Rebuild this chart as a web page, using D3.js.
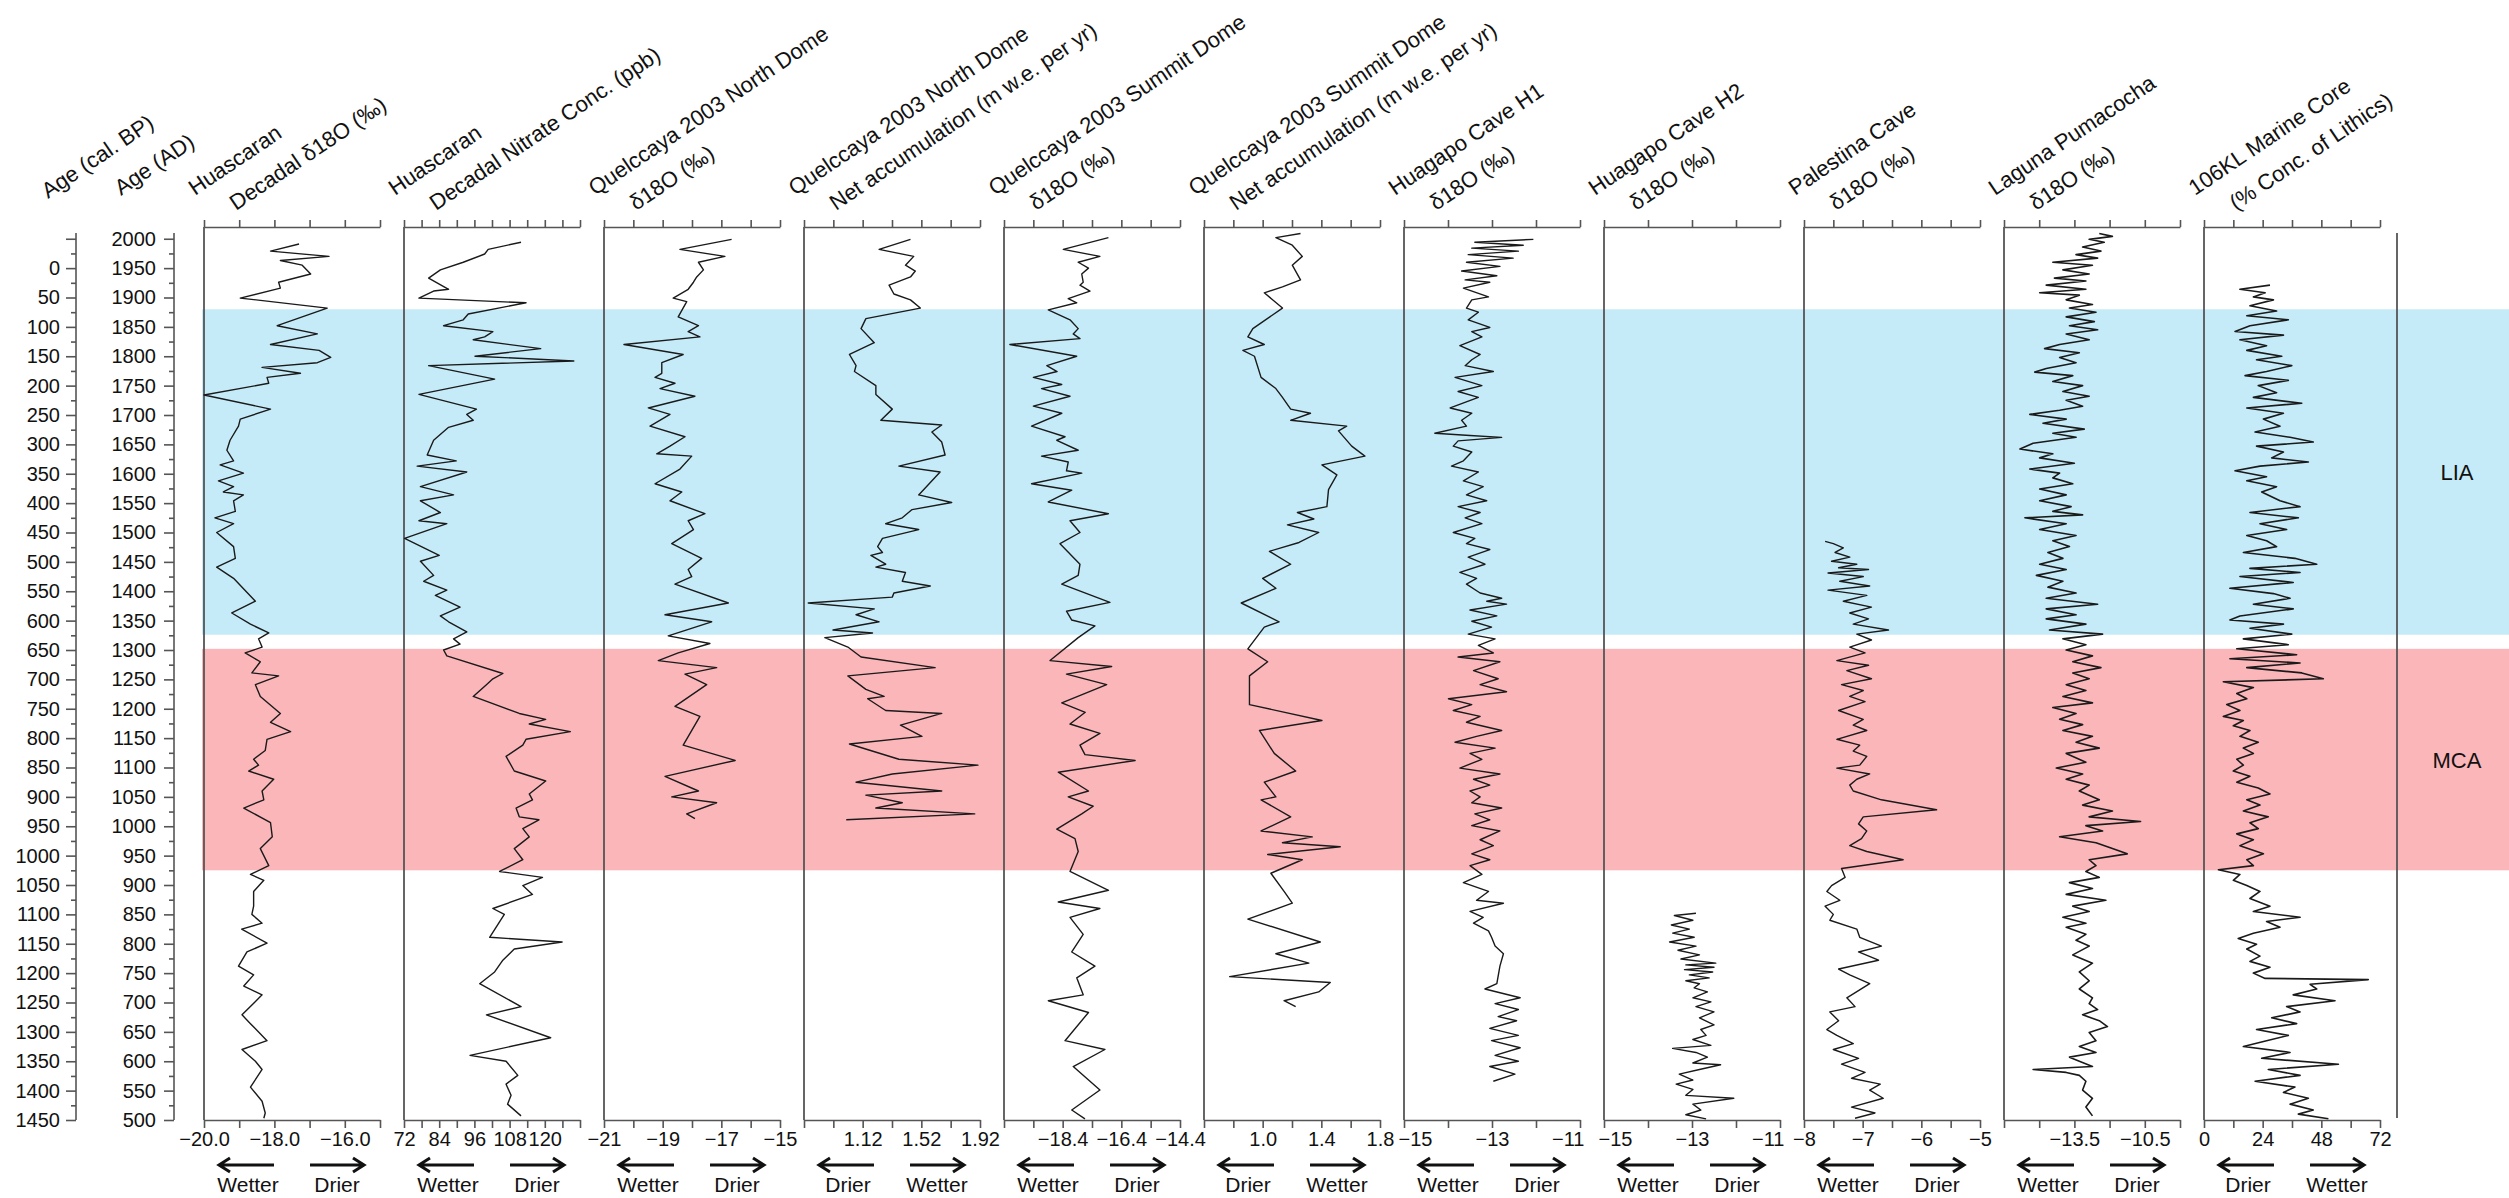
<!DOCTYPE html>
<html>
<head>
<meta charset="utf-8">
<script src="https://cdn.jsdelivr.net/npm/d3@7"></script>
<style>
  html, body { margin: 0; padding: 0; background: #fff; }
  svg { display: block; font-family: "Liberation Sans", Arial, sans-serif; }
</style>
</head>
<body>
<svg id="chart" width="2509" height="1198"></svg>
<script>
// ─────────────────────────────────────────────────────────────
// 1. data  (each series: [year AD, value])
// ─────────────────────────────────────────────────────────────
const periodNames = ['LIA', 'MCA'];
const periodStart = [1880, 1302];
const periodEnd   = [1326, 925];

const huascaranD18O = [[1991,-17.30],[1979,-18.11],[1970,-16.45],[1963,-17.83],[1955,-17.21],[1940,-16.97],[1926,-17.88],[1916,-17.83],[1899,-18.97],[1882,-16.50],[1852,-17.92],[1838,-16.78],[1820,-18.11],[1810,-16.73],[1798,-16.40],[1789,-16.78],[1781,-18.35],[1771,-17.26],[1764,-18.21],[1754,-18.16],[1734,-20.00],[1710,-18.11],[1693,-18.97],[1681,-19.02],[1657,-19.26],[1640,-19.35],[1622,-19.16],[1615,-19.54],[1601,-18.88],[1588,-19.59],[1578,-19.16],[1569,-19.45],[1564,-18.88],[1554,-19.16],[1536,-19.11],[1525,-19.69],[1515,-19.16],[1500,-19.64],[1476,-19.16],[1456,-19.11],[1441,-19.64],[1422,-19.16],[1383,-18.54],[1363,-19.21],[1344,-18.68],[1329,-18.16],[1319,-18.45],[1305,-18.35],[1295,-18.83],[1280,-18.40],[1261,-18.64],[1256,-17.88],[1241,-18.54],[1221,-18.40],[1192,-17.83],[1177,-18.11],[1161,-17.54],[1148,-18.21],[1129,-18.26],[1114,-18.59],[1104,-18.45],[1094,-18.73],[1080,-18.02],[1060,-18.35],[1045,-18.30],[1031,-18.87],[1006,-18.11],[982,-18.06],[962,-18.40],[933,-18.16],[918,-18.68],[908,-18.30],[889,-18.59],[864,-18.59],[850,-18.64],[835,-18.35],[825,-18.93],[801,-18.21],[786,-18.78],[762,-19.02],[747,-18.59],[728,-18.87],[713,-18.35],[679,-18.92],[664,-18.68],[635,-18.21],[620,-18.92],[600,-18.54],[586,-18.35],[556,-18.68],[532,-18.35],[512,-18.26],[503,-18.30]];

const huascaranNitrate = [[1994,111.9],[1982,100.7],[1974,99.5],[1960,92.2],[1947,84.4],[1933,80.4],[1914,87.2],[1911,82.1],[1899,77.1],[1891,113.6],[1872,93.9],[1862,92.2],[1852,85.5],[1842,102.3],[1833,99.5],[1828,95.6],[1813,118.6],[1800,96.2],[1792,129.9],[1784,80.4],[1761,102.9],[1735,77.1],[1710,96.7],[1701,93.4],[1691,95.6],[1679,87.2],[1657,82.1],[1632,79.9],[1622,89.8],[1613,76.5],[1603,93.4],[1578,77.6],[1564,88.9],[1554,77.6],[1534,84.4],[1520,77.1],[1515,86.6],[1490,72.2],[1461,84.0],[1451,77.6],[1427,82.1],[1417,78.7],[1402,86.6],[1393,82.7],[1373,91.1],[1358,84.4],[1348,87.2],[1331,93.4],[1319,88.9],[1310,91.1],[1300,85.5],[1290,86.6],[1260,105.7],[1251,102.3],[1241,100.1],[1221,95.6],[1192,111.3],[1182,120.3],[1174,114.7],[1161,128.7],[1148,113.6],[1138,112.5],[1119,106.8],[1094,109.6],[1077,120.3],[1055,114.7],[1045,115.8],[1031,110.2],[1016,111.3],[1011,118.0],[996,112.5],[982,114.7],[962,109.6],[943,112.5],[923,104.6],[913,119.2],[899,112.5],[884,115.8],[860,102.3],[850,106.2],[811,101.2],[803,125.9],[791,109.6],[772,105.7],[752,102.9],[732,97.8],[693,111.9],[679,100.1],[640,122.0],[610,94.5],[600,106.8],[576,110.8],[561,106.8],[542,108.5],[527,107.3],[507,111.9]];

const quelccayaND18O = [[1999,-16.65],[1982,-18.41],[1970,-16.88],[1960,-17.78],[1947,-17.61],[1935,-17.84],[1926,-17.95],[1914,-18.13],[1899,-18.64],[1893,-18.18],[1867,-18.47],[1852,-17.78],[1842,-18.13],[1833,-17.73],[1820,-20.32],[1803,-18.30],[1789,-19.03],[1771,-19.03],[1764,-19.26],[1754,-18.58],[1745,-19.09],[1732,-17.90],[1712,-19.49],[1701,-18.75],[1681,-19.43],[1663,-18.24],[1647,-18.75],[1634,-19.20],[1630,-18.01],[1608,-18.41],[1583,-19.26],[1569,-18.35],[1554,-18.75],[1532,-17.56],[1520,-18.13],[1505,-17.95],[1481,-18.69],[1456,-17.67],[1437,-18.13],[1425,-18.01],[1412,-18.58],[1380,-16.76],[1360,-18.92],[1348,-17.33],[1324,-18.81],[1311,-17.39],[1295,-18.47],[1282,-19.15],[1270,-17.16],[1259,-18.24],[1241,-17.50],[1204,-18.58],[1187,-17.73],[1138,-18.30],[1112,-16.53],[1085,-18.92],[1060,-17.78],[1050,-18.69],[1040,-17.16],[1021,-18.18],[1013,-17.90]];

const quelccayaNAccum = [[1999,1.446],[1982,1.232],[1970,1.468],[1955,1.412],[1945,1.479],[1935,1.446],[1921,1.300],[1906,1.333],[1896,1.446],[1882,1.513],[1864,1.142],[1847,1.109],[1823,1.199],[1803,1.030],[1784,1.075],[1774,1.064],[1750,1.210],[1735,1.210],[1710,1.322],[1691,1.244],[1683,1.659],[1671,1.592],[1654,1.659],[1632,1.682],[1613,1.367],[1603,1.648],[1564,1.502],[1551,1.727],[1539,1.457],[1525,1.390],[1515,1.277],[1505,1.502],[1490,1.255],[1476,1.222],[1466,1.255],[1461,1.176],[1446,1.277],[1441,1.210],[1432,1.412],[1417,1.390],[1409,1.581],[1397,1.333],[1390,1.322],[1380,0.749],[1370,1.199],[1360,1.075],[1348,1.232],[1334,0.918],[1329,1.187],[1321,0.862],[1305,1.019],[1288,1.109],[1270,1.614],[1256,1.019],[1233,1.142],[1221,1.266],[1217,1.154],[1197,1.277],[1192,1.659],[1172,1.378],[1153,1.524],[1140,1.030],[1114,1.367],[1104,1.906],[1089,1.322],[1075,1.075],[1060,1.659],[1053,1.142],[1040,1.390],[1031,1.210],[1021,1.884],[1011,1.008]];

const quelccayaSD18O = [[2002,-16.84],[1982,-18.38],[1970,-17.13],[1960,-17.87],[1950,-17.52],[1940,-17.75],[1926,-17.70],[1921,-17.81],[1911,-17.47],[1898,-18.21],[1891,-17.92],[1879,-18.89],[1862,-18.15],[1847,-17.87],[1838,-18.04],[1830,-17.81],[1820,-20.20],[1800,-17.92],[1784,-18.94],[1774,-18.59],[1764,-19.40],[1752,-18.43],[1745,-19.12],[1732,-18.15],[1715,-19.40],[1703,-18.43],[1681,-19.46],[1663,-18.32],[1657,-18.60],[1640,-17.87],[1630,-19.12],[1620,-18.21],[1605,-18.27],[1601,-17.75],[1583,-19.46],[1572,-18.09],[1552,-18.89],[1532,-16.84],[1520,-18.15],[1500,-17.81],[1481,-18.49],[1446,-17.81],[1427,-17.87],[1412,-18.43],[1381,-16.79],[1366,-18.27],[1351,-18.09],[1341,-17.30],[1321,-17.87],[1282,-18.83],[1272,-16.73],[1259,-18.27],[1241,-16.90],[1210,-18.43],[1194,-17.63],[1174,-18.15],[1158,-17.13],[1138,-17.81],[1122,-17.64],[1112,-15.93],[1092,-18.55],[1060,-17.52],[1050,-18.21],[1034,-17.36],[1021,-17.75],[995,-18.60],[979,-17.98],[957,-17.87],[923,-18.15],[891,-16.84],[871,-18.55],[860,-17.13],[845,-18.15],[816,-17.70],[786,-18.09],[762,-17.30],[742,-17.92],[713,-17.70],[703,-18.89],[683,-17.52],[635,-18.32],[620,-16.96],[591,-18.04],[551,-17.13],[517,-18.09],[502,-17.64]];

const quelccayaSAccum = [[2009,1.258],[2002,1.090],[1989,1.202],[1970,1.270],[1955,1.202],[1930,1.258],[1918,1.135],[1908,1.011],[1882,1.135],[1847,0.933],[1833,0.899],[1820,1.011],[1810,0.865],[1800,0.944],[1764,0.989],[1745,1.090],[1730,1.135],[1710,1.191],[1703,1.326],[1691,1.191],[1681,1.573],[1673,1.517],[1647,1.607],[1630,1.697],[1615,1.404],[1598,1.506],[1573,1.449],[1544,1.438],[1534,1.237],[1523,1.349],[1513,1.169],[1500,1.382],[1483,1.248],[1468,1.046],[1446,1.191],[1422,1.000],[1405,1.090],[1380,0.854],[1348,1.112],[1339,1.011],[1302,0.899],[1280,1.034],[1256,0.910],[1207,0.910],[1180,1.404],[1163,0.978],[1124,1.079],[1094,1.225],[1075,1.011],[1050,1.090],[1045,0.989],[1016,1.191],[992,0.989],[982,1.338],[972,1.135],[965,1.529],[952,1.034],[943,1.270],[920,1.056],[889,1.146],[869,1.202],[842,0.899],[803,1.393],[783,1.090],[767,1.315],[744,0.775],[734,1.461],[718,1.382],[703,1.146],[693,1.225]];

const huagapoH1 = [[1999,-12.06],[1994,-13.39],[1989,-12.29],[1984,-13.46],[1979,-12.40],[1973,-13.54],[1967,-12.52],[1960,-13.58],[1953,-12.82],[1945,-13.69],[1937,-12.89],[1930,-13.61],[1926,-13.05],[1916,-13.65],[1901,-13.08],[1896,-13.46],[1882,-13.58],[1875,-13.31],[1862,-13.54],[1849,-13.05],[1842,-13.46],[1833,-13.23],[1818,-13.73],[1803,-13.27],[1794,-13.46],[1784,-13.61],[1774,-12.97],[1764,-13.84],[1750,-13.23],[1740,-13.77],[1730,-13.31],[1712,-13.95],[1703,-13.46],[1691,-13.69],[1681,-13.58],[1669,-14.30],[1665,-13.50],[1662,-12.78],[1656,-13.77],[1647,-13.88],[1637,-13.46],[1622,-13.65],[1613,-13.92],[1603,-13.31],[1588,-13.65],[1578,-13.20],[1564,-13.58],[1554,-13.12],[1544,-13.77],[1534,-13.27],[1525,-13.61],[1515,-13.23],[1500,-13.88],[1490,-13.39],[1481,-13.58],[1471,-13.05],[1458,-13.54],[1446,-13.16],[1432,-13.73],[1422,-13.35],[1412,-13.58],[1397,-13.27],[1388,-12.78],[1383,-13.12],[1378,-12.67],[1368,-13.50],[1358,-12.89],[1349,-13.46],[1339,-13.01],[1327,-13.54],[1319,-12.93],[1308,-13.31],[1295,-12.97],[1288,-13.77],[1280,-12.82],[1265,-13.42],[1251,-12.86],[1241,-13.27],[1229,-12.67],[1217,-13.99],[1207,-13.46],[1197,-13.88],[1187,-13.27],[1177,-13.58],[1163,-12.78],[1153,-13.35],[1143,-13.84],[1133,-12.93],[1124,-13.50],[1114,-13.23],[1099,-13.73],[1089,-12.82],[1080,-13.42],[1070,-13.05],[1060,-13.50],[1050,-13.27],[1040,-13.46],[1031,-12.78],[1021,-13.39],[1011,-13.05],[1001,-13.46],[992,-12.82],[977,-13.27],[967,-12.97],[953,-13.46],[943,-13.05],[933,-13.50],[918,-13.23],[904,-13.65],[889,-13.08],[874,-13.35],[869,-12.74],[855,-13.50],[845,-13.20],[835,-13.42],[822,-13.08],[811,-13.01],[796,-12.93],[783,-12.74],[762,-12.82],[732,-12.89],[723,-13.16],[708,-12.36],[698,-12.93],[688,-12.40],[676,-12.86],[669,-12.44],[656,-13.05],[644,-12.40],[635,-13.01],[623,-12.36],[610,-12.93],[600,-12.40],[591,-13.05],[578,-12.48],[566,-12.97]];

const huagapoH2 = [[852,-12.91],[848,-13.40],[840,-12.98],[832,-13.47],[825,-13.06],[818,-13.44],[811,-12.95],[803,-13.51],[796,-12.91],[789,-13.32],[781,-12.83],[774,-13.25],[767,-12.46],[764,-13.14],[760,-12.50],[756,-13.17],[752,-12.53],[747,-13.06],[742,-12.61],[737,-13.14],[732,-12.83],[725,-12.95],[718,-12.65],[708,-12.98],[701,-12.57],[693,-12.91],[684,-12.50],[674,-12.83],[662,-12.50],[654,-12.80],[644,-12.68],[637,-12.98],[627,-12.57],[622,-13.44],[615,-12.91],[607,-12.65],[597,-12.98],[594,-12.35],[586,-12.83],[578,-13.29],[568,-12.98],[561,-13.36],[552,-12.98],[542,-13.14],[537,-12.05],[527,-12.98],[517,-12.80],[509,-13.14],[502,-12.68]];

const palestinaD18O = [[1485,-7.64],[1481,-7.50],[1474,-7.33],[1466,-7.47],[1458,-7.22],[1451,-7.53],[1446,-7.10],[1440,-7.41],[1437,-6.90],[1431,-7.59],[1425,-6.99],[1417,-7.39],[1409,-6.88],[1402,-7.59],[1393,-6.93],[1383,-7.33],[1373,-6.85],[1363,-7.22],[1353,-6.90],[1344,-7.16],[1334,-6.56],[1327,-7.10],[1317,-6.85],[1305,-7.22],[1295,-6.96],[1282,-7.44],[1274,-6.90],[1265,-7.27],[1251,-6.85],[1241,-7.36],[1231,-6.99],[1221,-7.22],[1212,-6.96],[1197,-7.41],[1182,-6.99],[1172,-7.16],[1163,-6.93],[1148,-7.44],[1138,-7.05],[1128,-7.16],[1119,-6.93],[1104,-7.05],[1099,-7.44],[1089,-6.88],[1080,-7.10],[1070,-7.22],[1060,-7.16],[1045,-6.68],[1028,-5.74],[1016,-6.99],[1004,-7.07],[992,-6.93],[979,-7.02],[967,-7.22],[957,-6.93],[943,-6.31],[928,-7.36],[913,-7.30],[899,-7.53],[889,-7.61],[874,-7.39],[864,-7.64],[850,-7.50],[840,-7.56],[825,-7.10],[811,-7.05],[796,-6.68],[786,-7.07],[772,-6.73],[757,-7.41],[747,-7.22],[732,-6.88],[708,-7.27],[693,-7.13],[684,-7.56],[669,-7.41],[654,-7.61],[644,-7.44],[630,-7.16],[620,-7.50],[605,-7.07],[595,-7.36],[581,-6.96],[571,-7.19],[561,-6.70],[551,-6.88],[537,-6.65],[522,-7.19],[512,-6.79],[503,-7.13]];

const pumacochaD18O = [[2009,-12.44],[2004,-11.88],[1999,-12.87],[1994,-12.23],[1986,-13.15],[1979,-12.37],[1973,-13.43],[1967,-12.51],[1960,-14.42],[1955,-12.73],[1947,-13.99],[1940,-12.87],[1933,-14.35],[1928,-13.01],[1921,-14.70],[1914,-13.01],[1908,-14.98],[1904,-13.29],[1896,-13.85],[1888,-12.73],[1882,-13.71],[1875,-12.58],[1867,-13.85],[1859,-12.65],[1852,-13.71],[1845,-12.51],[1838,-13.85],[1828,-12.87],[1820,-14.13],[1813,-14.77],[1806,-13.29],[1798,-14.13],[1789,-13.43],[1779,-14.70],[1773,-15.19],[1767,-13.57],[1757,-14.42],[1750,-13.15],[1740,-13.99],[1732,-12.87],[1725,-13.85],[1715,-13.15],[1708,-14.13],[1701,-15.40],[1693,-13.85],[1686,-14.84],[1676,-13.08],[1669,-14.42],[1662,-13.43],[1652,-15.26],[1642,-15.82],[1634,-14.42],[1627,-14.98],[1618,-13.50],[1608,-15.40],[1601,-14.13],[1593,-14.42],[1583,-13.57],[1574,-14.98],[1564,-13.85],[1554,-14.98],[1544,-13.64],[1536,-14.42],[1530,-13.15],[1525,-15.61],[1515,-13.85],[1505,-14.98],[1495,-13.43],[1486,-14.42],[1476,-13.71],[1466,-14.63],[1456,-13.99],[1446,-14.98],[1437,-13.85],[1427,-15.12],[1417,-13.99],[1407,-14.63],[1397,-13.43],[1388,-14.70],[1378,-12.51],[1370,-14.70],[1360,-13.43],[1353,-14.70],[1344,-13.01],[1334,-14.56],[1327,-12.30],[1319,-13.99],[1309,-13.01],[1300,-13.85],[1290,-12.73],[1280,-13.57],[1270,-12.37],[1261,-13.57],[1251,-12.87],[1241,-13.85],[1231,-13.01],[1221,-13.99],[1210,-12.73],[1202,-14.42],[1192,-13.43],[1182,-14.13],[1173,-13.15],[1163,-13.99],[1153,-12.73],[1143,-13.43],[1133,-12.44],[1124,-13.85],[1109,-13.01],[1099,-14.27],[1089,-13.15],[1080,-13.85],[1070,-12.87],[1060,-13.29],[1045,-12.44],[1036,-13.15],[1026,-11.88],[1016,-12.87],[1008,-10.68],[1001,-13.01],[992,-12.30],[982,-14.13],[972,-12.58],[962,-11.88],[953,-11.25],[943,-12.87],[933,-12.58],[923,-13.01],[913,-12.44],[904,-13.71],[894,-12.73],[884,-13.85],[874,-12.16],[864,-13.57],[855,-12.87],[845,-13.99],[835,-13.01],[828,-13.85],[816,-13.01],[806,-13.43],[796,-12.87],[781,-13.57],[767,-12.73],[752,-13.29],[737,-12.87],[723,-13.29],[708,-12.73],[698,-12.87],[688,-12.51],[679,-13.15],[669,-12.44],[659,-12.09],[649,-12.87],[635,-12.58],[625,-13.29],[615,-12.58],[607,-13.71],[600,-13.29],[591,-12.73],[586,-15.26],[581,-13.85],[576,-13.29],[566,-13.01],[551,-13.15],[537,-12.73],[522,-13.01],[507,-12.73]];

const marineLithics = [[1921,27.0],[1914,14.7],[1908,25.0],[1901,20.2],[1896,28.4],[1886,18.8],[1877,29.7],[1869,17.5],[1862,34.5],[1852,18.8],[1842,12.7],[1836,32.5],[1828,14.7],[1818,25.6],[1810,17.5],[1800,31.8],[1794,21.5],[1784,35.9],[1774,25.6],[1767,16.8],[1759,34.5],[1750,22.2],[1738,29.7],[1730,20.2],[1720,40.0],[1712,17.5],[1703,32.5],[1693,24.3],[1681,31.1],[1671,20.9],[1662,35.2],[1654,44.7],[1647,21.5],[1637,32.5],[1627,27.7],[1620,42.7],[1613,22.9],[1605,12.7],[1595,25.6],[1588,17.5],[1578,29.7],[1569,23.6],[1554,31.1],[1544,39.3],[1534,18.8],[1525,38.6],[1515,22.9],[1505,33.8],[1495,17.5],[1486,25.6],[1476,29.7],[1466,16.1],[1456,37.2],[1446,46.1],[1439,18.8],[1432,39.3],[1425,14.7],[1415,36.5],[1405,10.6],[1396,28.4],[1388,35.2],[1378,20.2],[1370,36.5],[1358,14.7],[1351,10.6],[1344,32.5],[1337,18.8],[1327,35.9],[1319,16.1],[1309,34.5],[1302,13.4],[1292,37.9],[1285,10.6],[1278,39.3],[1270,17.5],[1261,40.0],[1251,48.8],[1246,7.9],[1236,20.2],[1226,13.4],[1217,17.5],[1207,9.3],[1197,14.7],[1187,7.9],[1180,16.1],[1171,12.0],[1163,18.8],[1153,14.7],[1143,22.2],[1133,16.1],[1124,20.2],[1114,13.4],[1104,16.1],[1094,12.0],[1085,18.8],[1075,13.4],[1065,22.2],[1055,27.0],[1045,17.5],[1036,22.9],[1026,16.1],[1016,26.3],[1006,18.8],[996,22.2],[987,13.4],[977,20.2],[967,14.7],[953,24.3],[943,17.5],[933,20.2],[926,5.9],[918,14.7],[908,12.0],[899,17.5],[889,22.9],[877,18.8],[864,27.0],[855,20.2],[845,39.3],[838,25.6],[828,31.1],[818,20.2],[809,14.0],[799,21.5],[791,17.5],[779,22.9],[770,18.8],[760,27.0],[750,20.2],[741,25.0],[739,67.2],[731,43.4],[723,46.1],[713,36.5],[703,53.6],[693,33.8],[684,39.3],[674,27.7],[664,37.9],[654,21.5],[644,34.5],[635,25.6],[625,16.1],[615,35.2],[605,23.6],[595,55.0],[586,26.3],[576,39.3],[566,20.9],[556,37.2],[547,32.5],[537,42.7],[527,35.2],[517,44.7],[510,38.6],[502,50.9]];

// ─────────────────────────────────────────────────────────────
// 2. panel definitions (titles, x-axis ranges, tick labels)
// ─────────────────────────────────────────────────────────────
const panels = [
  { title: ['Huascaran', 'Decadal δ18O (‰)'], domain: [-20, -15], step: 1, labels: [-20, -18, -16], fmt: '.1f', arrows: ['Wetter', 'Drier'], data: huascaranD18O },
  { title: ['Huascaran', 'Decadal Nitrate Conc. (ppb)'], domain: [72, 132], step: 6, labels: [72, 84, 96, 108, 120], fmt: 'd', arrows: ['Wetter', 'Drier'], data: huascaranNitrate },
  { title: ['Quelccaya 2003 North Dome', 'δ18O (‰)'], domain: [-21, -15], step: 1, labels: [-21, -19, -17, -15], fmt: 'd', arrows: ['Wetter', 'Drier'], data: quelccayaND18O },
  { title: ['Quelccaya 2003 North Dome', 'Net accumulation (m w.e. per yr)'], domain: [0.72, 1.92], step: 0.2, labels: [1.12, 1.52, 1.92], fmt: '.2f', arrows: ['Drier', 'Wetter'], data: quelccayaNAccum },
  { title: ['Quelccaya 2003 Summit Dome', 'δ18O (‰)'], domain: [-20.4, -14.4], step: 1, labels: [-18.4, -16.4, -14.4], fmt: '.1f', arrows: ['Wetter', 'Drier'], data: quelccayaSD18O },
  { title: ['Quelccaya 2003 Summit Dome', 'Net accumulation (m w.e. per yr)'], domain: [0.6, 1.8], step: 0.2, labels: [1.0, 1.4, 1.8], fmt: '.1f', arrows: ['Drier', 'Wetter'], data: quelccayaSAccum },
  { title: ['Huagapo Cave H1', 'δ18O (‰)'], domain: [-15, -11], step: 1, labels: [-15, -13, -11], fmt: 'd', arrows: ['Wetter', 'Drier'], data: huagapoH1, inset: true },
  { title: ['Huagapo Cave H2', 'δ18O (‰)'], domain: [-15, -11], step: 1, labels: [-15, -13, -11], fmt: 'd', arrows: ['Wetter', 'Drier'], data: huagapoH2, inset: true },
  { title: ['Palestina Cave', 'δ18O (‰)'], domain: [-8, -5], step: 0.5, labels: [-8, -7, -6, -5], fmt: 'd', arrows: ['Wetter', 'Drier'], data: palestinaD18O },
  { title: ['Laguna Pumacocha', 'δ18O (‰)'], domain: [-16.5, -9], step: 1.5, labels: [-13.5, -10.5], fmt: '.1f', arrows: ['Wetter', 'Drier'], data: pumacochaD18O, dense: true },
  { title: ['106KL Marine Core', '(% Conc. of Lithics)'], domain: [0, 72], step: 12, labels: [0, 24, 48, 72], fmt: 'd', arrows: ['Drier', 'Wetter'], data: marineLithics, dense: true }
];

// ─────────────────────────────────────────────────────────────
// 3. layout
// ─────────────────────────────────────────────────────────────
const W = 2509, H = 1198;
const TOP = 227, BOTTOM = 1120;
const PANEL_X0 = 204, PANEL_STEP = 200, PANEL_W = 176;
const BAND_COLORS = ['#c6ebf8', '#fbb6ba'];
const AXIS_COLOR = '#555';
const LINE_COLOR = '#1a1a1a';

const svg = d3.select('#chart');
const y = d3.scaleLinear().domain([2020, 500]).range([TOP, BOTTOM]);

// shaded periods
svg.append('g').selectAll('rect').data(periodNames).join('rect')
  .attr('x', PANEL_X0 - 2)
  .attr('width', W - PANEL_X0 + 2)
  .attr('y', (d, i) => y(periodStart[i]))
  .attr('height', (d, i) => y(periodEnd[i]) - y(periodStart[i]))
  .attr('fill', (d, i) => BAND_COLORS[i]);

svg.append('g').selectAll('text').data(periodNames).join('text')
  .attr('x', 2457)
  .attr('y', (d, i) => (y(periodStart[i]) + y(periodEnd[i])) / 2 + 8)
  .attr('text-anchor', 'middle')
  .attr('font-size', 22)
  .attr('fill', '#111')
  .text(d => d);

// ─────────────────────────────────────────────────────────────
// 4. age axes (cal. BP and AD)
// ─────────────────────────────────────────────────────────────
function styleAxis(g, labelX) {
  g.select('.domain').attr('stroke', AXIS_COLOR).attr('stroke-width', 1.6);
  g.selectAll('.tick line').attr('stroke', AXIS_COLOR).attr('stroke-width', 1.6);
  g.selectAll('.tick text')
    .attr('font-size', 20)
    .attr('font-family', '"Liberation Sans", Arial, sans-serif')
    .attr('fill', '#111');
  if (labelX !== undefined) g.selectAll('.tick text').attr('x', labelX);
}

const bp = d3.scaleLinear().domain([1950 - 2020, 1950 - 500]).range([TOP, BOTTOM]);
const gBP = svg.append('g').attr('transform', 'translate(76,0)')
  .call(d3.axisLeft(bp)
    .tickValues(d3.range(-50, 1451, 25))
    .tickSize(10).tickSizeOuter(0)
    .tickFormat(d => (d >= 0 && d % 50 === 0) ? d : ''));
gBP.select('.domain').attr('d', `M0,${bp(-60)}V${bp(1450)}`);
gBP.selectAll('.tick').filter(d => d % 50 !== 0).select('line').attr('x2', -5);
styleAxis(gBP, -16);

const gAD = svg.append('g').attr('transform', 'translate(174,0)')
  .call(d3.axisLeft(y)
    .tickValues(d3.range(500, 2001, 25))
    .tickSize(10).tickSizeOuter(0)
    .tickFormat(d => d % 50 === 0 ? d : ''));
gAD.select('.domain').attr('d', `M0,${y(2010)}V${y(500)}`);
gAD.selectAll('.tick').filter(d => d % 50 !== 0).select('line').attr('x2', -5);
styleAxis(gAD, -18);

const ageTitles = [['Age (cal. BP)', 48, 199], ['Age (AD)', 121, 196]];
svg.append('g').selectAll('text').data(ageTitles).join('text')
  .attr('transform', d => `translate(${d[1]},${d[2]}) rotate(-34)`)
  .attr('font-size', 22).attr('fill', '#111')
  .text(d => d[0]);

// ─────────────────────────────────────────────────────────────
// 5. proxy panels
// ─────────────────────────────────────────────────────────────
const eq = (a, b) => Math.abs(a - b) < 1e-6;

panels.forEach((p, i) => {
  const left = PANEL_X0 + i * PANEL_STEP;
  const x = d3.scaleLinear().domain(p.domain).range([left, left + PANEL_W]);
  const ticks = d3.range(p.domain[0], p.domain[1] + p.step / 2, p.step);
  const fmt = d3.format(p.fmt);
  const g = svg.append('g');

  // panel frame line
  g.append('line')
    .attr('x1', left).attr('x2', left)
    .attr('y1', TOP).attr('y2', BOTTOM)
    .attr('stroke', AXIS_COLOR).attr('stroke-width', 1.8);

  // top axis (ticks only)
  const gTop = g.append('g').attr('transform', `translate(0,${TOP})`)
    .call(d3.axisTop(x).tickValues(ticks).tickSize(7).tickSizeOuter(0).tickFormat(''));
  styleAxis(gTop);

  // bottom axis
  const gBot = g.append('g').attr('transform', `translate(0,${BOTTOM})`)
    .call(d3.axisBottom(x).tickValues(ticks).tickSize(8).tickSizeOuter(0)
      .tickFormat(d => p.labels.some(l => eq(l, d)) ? fmt(d) : ''));
  styleAxis(gBot);
  gBot.selectAll('.tick text').attr('y', 12);
  if (p.inset) {
    gBot.selectAll('.tick text')
      .filter(d => eq(d, p.domain[0])).attr('text-anchor', 'start').attr('x', -6);
    gBot.selectAll('.tick text')
      .filter(d => eq(d, p.domain[1])).attr('text-anchor', 'end').attr('x', 4);
  }

  // data line
  g.append('path')
    .datum(p.data)
    .attr('fill', 'none')
    .attr('stroke', LINE_COLOR)
    .attr('stroke-width', p.dense ? 1.6 : 1.4)
    .attr('stroke-linejoin', 'round')
    .attr('d', d3.line().x(d => x(d[1])).y(d => y(d[0])));

  // header
  g.append('text')
    .attr('transform', `translate(${left - 9},196) rotate(-34)`)
    .attr('font-size', 22).attr('fill', '#111')
    .text(p.title[0]);
  g.append('text')
    .attr('transform', `translate(${left + 32},211) rotate(-34)`)
    .attr('font-size', 22).attr('fill', '#111')
    .text(p.title[1]);

  // wetter / drier arrows
  const ay = 1165;
  const arrows = [
    { x1: left + 70, x2: left + 15, dir: -1, cx: left + 44, label: p.arrows[0] },
    { x1: left + 106, x2: left + 160, dir: 1, cx: left + 133, label: p.arrows[1] }
  ];
  arrows.forEach(a => {
    g.append('path')
      .attr('d', `M${a.x1},${ay}H${a.x2}M${a.x2 - a.dir * 11},${ay - 7}L${a.x2},${ay}L${a.x2 - a.dir * 11},${ay + 7}`)
      .attr('fill', 'none').attr('stroke', '#111').attr('stroke-width', 3);
    g.append('text')
      .attr('x', a.cx).attr('y', 1192)
      .attr('text-anchor', 'middle')
      .attr('font-size', 21).attr('fill', '#111')
      .text(a.label);
  });
});

// right frame line
svg.append('line')
  .attr('x1', 2397).attr('x2', 2397)
  .attr('y1', y(2010)).attr('y2', BOTTOM - 2)
  .attr('stroke', AXIS_COLOR).attr('stroke-width', 1.8);
</script>
</body>
</html>
